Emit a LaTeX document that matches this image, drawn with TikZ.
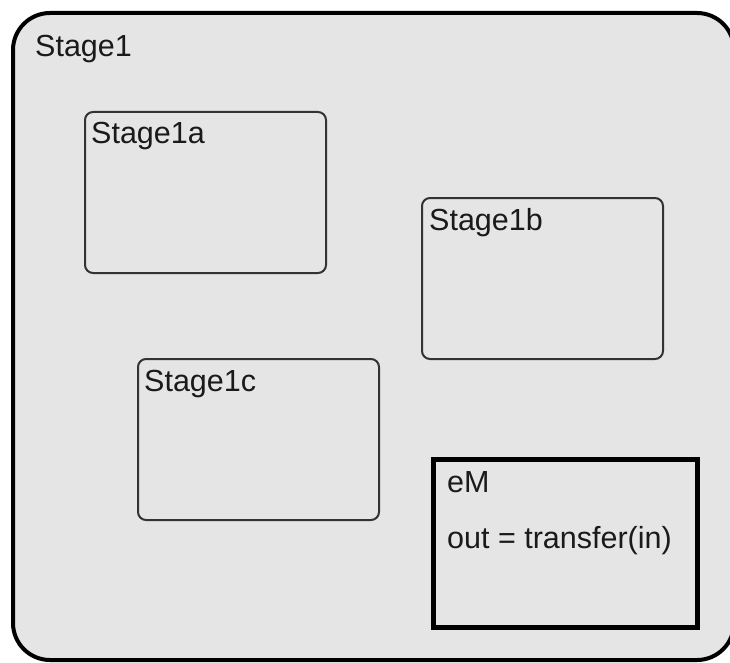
\documentclass[tikz,border=0pt]{standalone}
\usepackage{fontspec}
\setmainfont{Liberation Sans}
\usetikzlibrary{positioning}

\definecolor{stagefill}{HTML}{E5E5E5}
\definecolor{boxline}{HTML}{333333}
\definecolor{labeltext}{HTML}{1A1A1A}

\tikzset{
    stagebox/.style={draw=black, line width=4pt, fill=stagefill, rounded corners=37pt},
    substage/.style={draw=boxline, line width=2pt, rounded corners=8pt,
        minimum width=241pt, minimum height=161pt, inner sep=0pt, anchor=north west},
    modelbox/.style={draw=black, line width=5pt, minimum width=264pt,
        minimum height=168pt, inner sep=0pt, anchor=north west},
    lbl/.style={font=\fontsize{30.5}{36}\selectfont, text=labeltext,
        inner sep=0pt, anchor=base west}
}

\begin{document}
\begin{tikzpicture}[x=1pt, y=-1pt]
    \clip (0,0) rectangle (730,663);

    % Outer stage
    \draw[stagebox] (13,13) rectangle (734,660);
    \coordinate (stage1) at (13,13);
    \node[lbl] (stage1-lbl) at ([shift={(22,44)}]stage1) {Stage1};

    % Sub stages
    \node[substage] (stage1a) at (84,111) {};
    \node[lbl] (stage1a-lbl) at ([shift={(7,33)}]stage1a.north west) {Stage1a};

    \node[substage] (stage1b) at (421,197) {};
    \node[lbl] (stage1b-lbl) at ([shift={(8,33)}]stage1b.north west) {Stage1b};

    \node[substage] (stage1c) at (137,358) {};
    \node[lbl] (stage1c-lbl) at ([shift={(7,33)}]stage1c.north west) {Stage1c};

    % Embedded model
    \node[modelbox] (em) at (431,457) {};
    \node[lbl] (em-lbl) at ([shift={(16,35)}]em.north west) {eM};
    \node[lbl] (em-eq) at ([shift={(16,91)}]em.north west) {out = transfer(in)};
\end{tikzpicture}
\end{document}
